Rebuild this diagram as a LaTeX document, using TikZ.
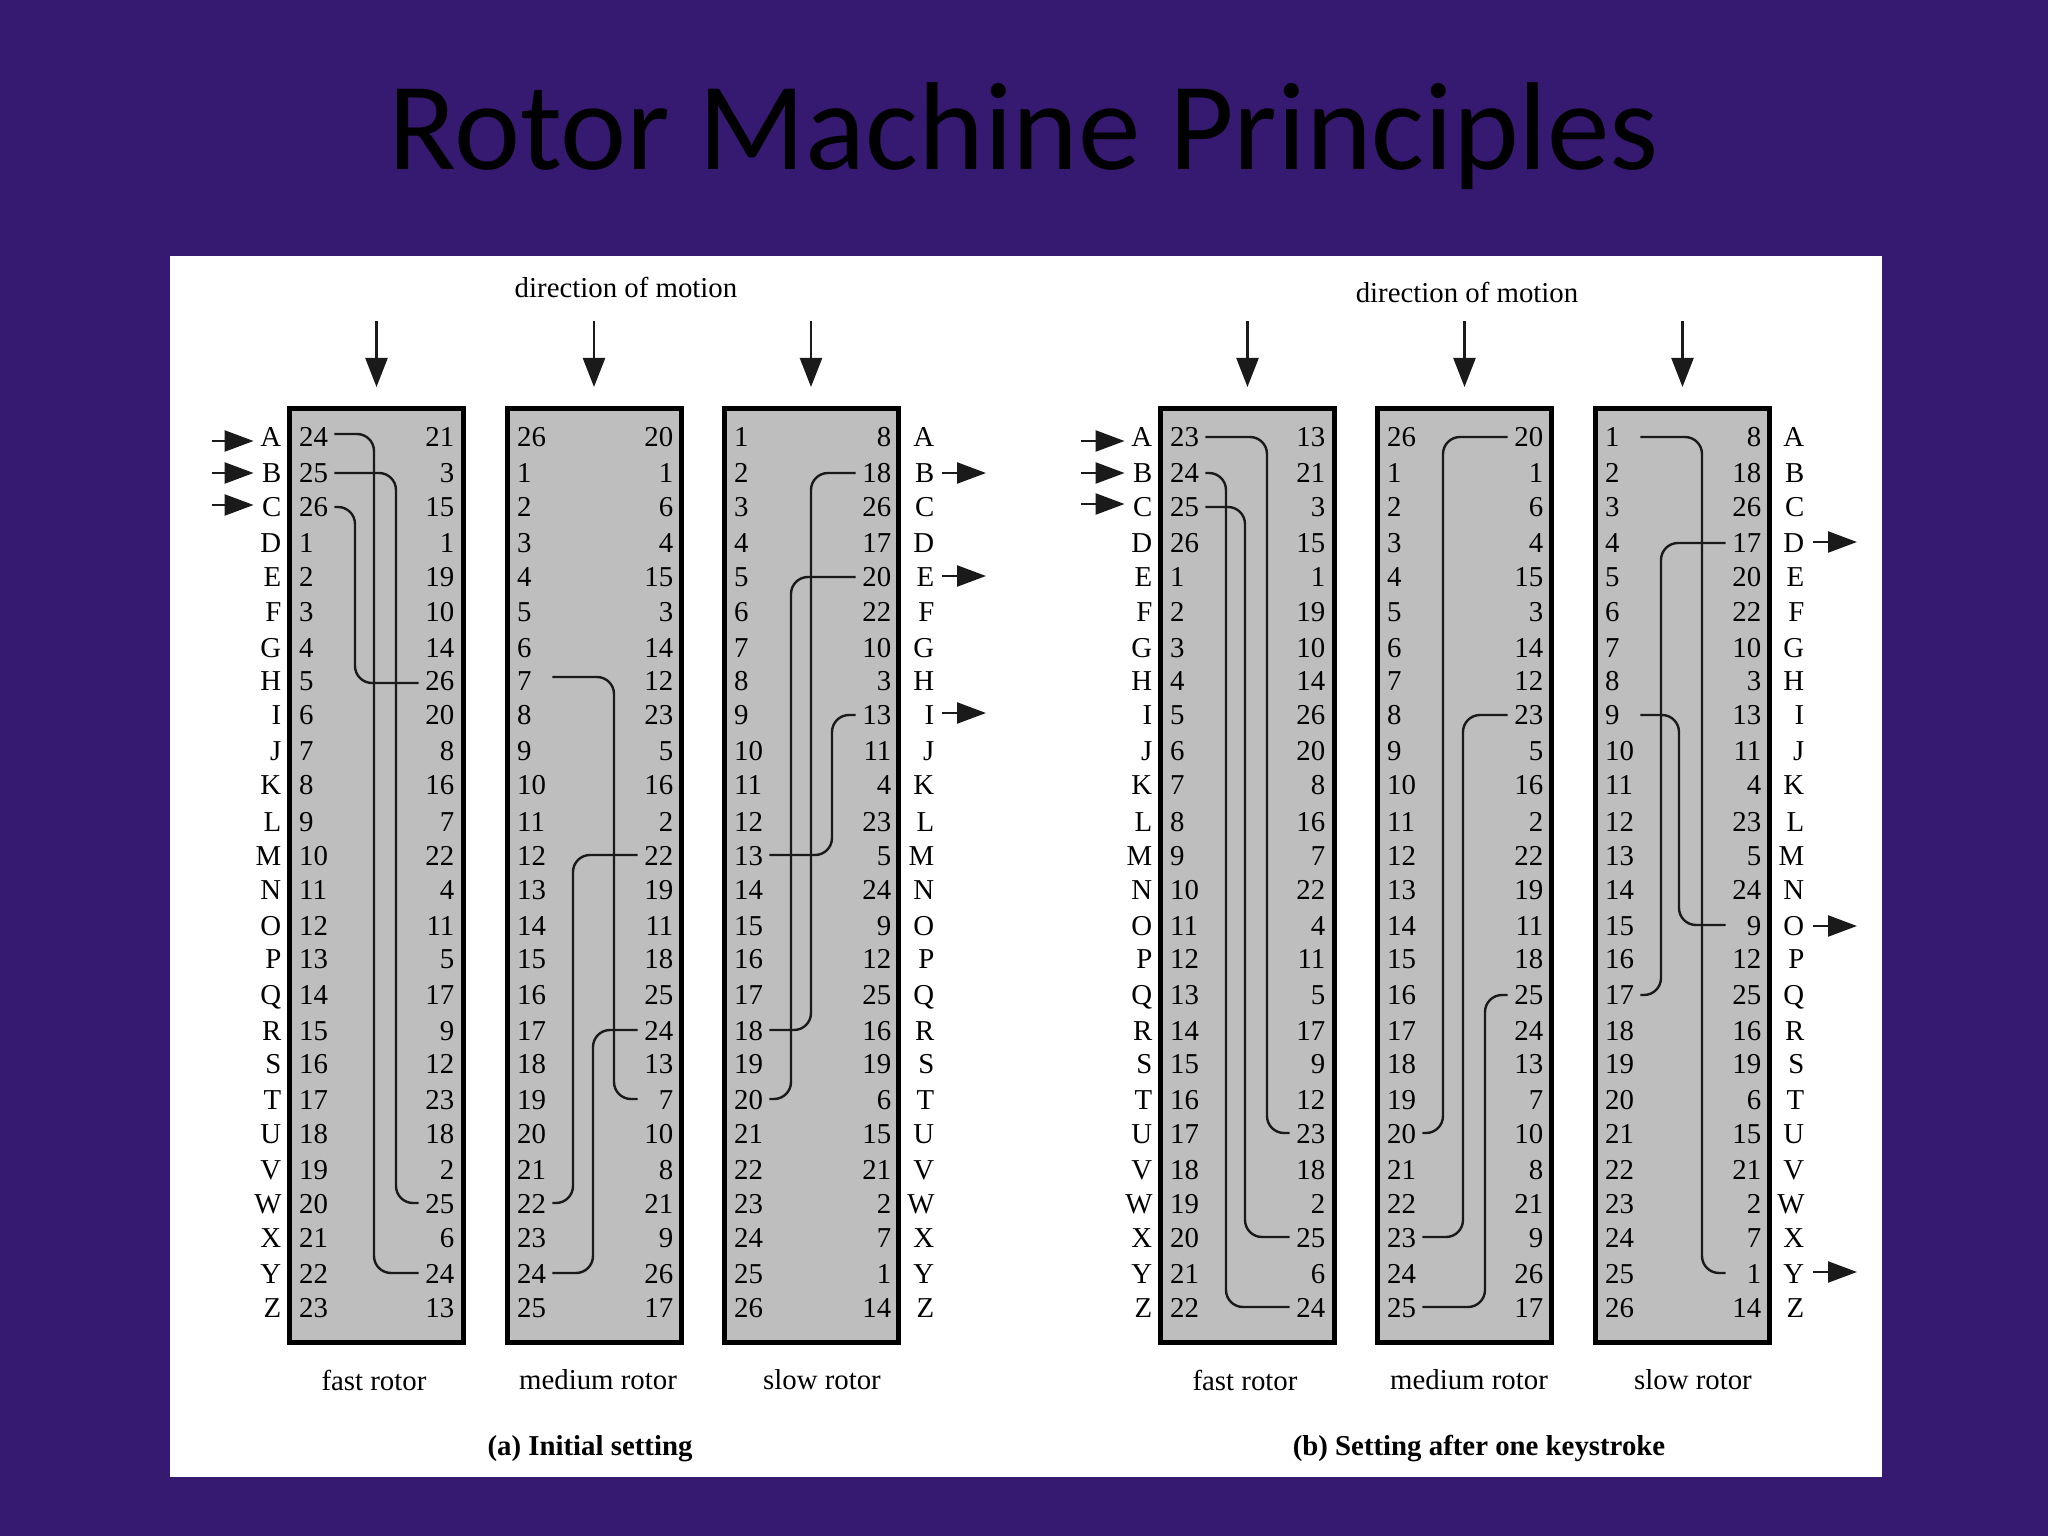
\documentclass[tikz,border=0pt]{standalone}
\usepackage{fontspec}
\usepackage{tikz}
\usetikzlibrary{arrows.meta, positioning}
\setmainfont{Liberation Serif}
\newfontfamily\titlefont{Carlito}
\definecolor{slidebg}{HTML}{361971}
\definecolor{rotorgray}{HTML}{BEBEBE}
\definecolor{wireink}{HTML}{1A1A1A}
\newcommand{\rotorcol}[4]{\foreach \val [count=\i] in {#4} {\node[#2] (#1\i) at (#3,0 |- row\i) {\val};}}

\begin{document}
\begin{tikzpicture}[
    x=1cm, y=-1cm,
    every node/.style={font=\fontsize{8.2}{10}\selectfont, inner sep=0pt},
    rotor/.style={rectangle, draw=black, fill=rotorgray, line width=0.05cm, minimum width=1.74cm, minimum height=9.34cm},
    numl/.style={anchor=west, text width=0.345cm, align=left, text height=0.2cm, text depth=0cm},
    numr/.style={anchor=east, text width=0.35cm, align=right, text height=0.2cm, text depth=0cm},
    letter/.style={anchor=east, text width=0.27cm, align=right, text height=0.2cm, text depth=0cm},
    wire/.style={draw=wireink, line width=0.024cm, rounded corners=0.17cm},
    via/.style={to path={-- (#1,0 |- \tikztostart) -- (#1,0 |- \tikztotarget) -- (\tikztotarget)}},
    motion/.style={-{Triangle[length=0.29cm, width=0.22cm]}, draw=wireink, line width=0.024cm, shorten >=0.19cm},
    signal/.style={-{Triangle[length=0.29cm, width=0.21cm]}, draw=wireink, line width=0.024cm}
]
\useasboundingbox (0,0) rectangle (20.48,15.36);
% Slide and panel
\fill[slidebg] (0,0) rectangle (20.48,15.36);
\fill[white] (1.70,2.56) rectangle (18.82,14.77);
\node[font=\titlefont\fontsize{35.6}{40}\selectfont, text=black, anchor=base] (title) at (10.24,1.70) {Rotor Machine Principles};

% Rotors
\node[rotor] (afast) at (3.765,8.755) {};
\node[rotor] (amed)  at (5.94,8.755)  {};
\node[rotor] (aslow) at (8.11,8.755)  {};
\node[rotor] (bfast) at (12.475,8.755) {};
\node[rotor] (bmed)  at (14.645,8.755) {};
\node[rotor] (bslow) at (16.825,8.755) {};

% Rows
\foreach \yy [count=\i] in {4.37,4.73,5.07,5.43,5.77,6.11,6.47,6.81,7.15,7.50,7.85,8.21,8.55,8.89,9.25,9.59,9.95,10.30,10.63,10.99,11.33,11.69,12.03,12.37,12.73,13.07}
    \coordinate (row\i) at (0,\yy);

% Setting (a)
\rotorcol{ain}{letter}{2.82}{A,B,C,D,E,F,G,H,I,J,K,L,M,N,O,P,Q,R,S,T,U,V,W,X,Y,Z}
\rotorcol{afl}{numl}{2.985}{24,25,26,1,2,3,4,5,6,7,8,9,10,11,12,13,14,15,16,17,18,19,20,21,22,23}
\rotorcol{afr}{numr}{4.55}{21,3,15,1,19,10,14,26,20,8,16,7,22,4,11,5,17,9,12,23,18,2,25,6,24,13}
\rotorcol{aml}{numl}{5.165}{26,1,2,3,4,5,6,7,8,9,10,11,12,13,14,15,16,17,18,19,20,21,22,23,24,25}
\rotorcol{amr}{numr}{6.74}{20,1,6,4,15,3,14,12,23,5,16,2,22,19,11,18,25,24,13,7,10,8,21,9,26,17}
\rotorcol{asl}{numl}{7.335}{1,2,3,4,5,6,7,8,9,10,11,12,13,14,15,16,17,18,19,20,21,22,23,24,25,26}
\rotorcol{asr}{numr}{8.92}{8,18,26,17,20,22,10,3,13,11,4,23,5,24,9,12,25,16,19,6,15,21,2,7,1,14}
\rotorcol{aout}{letter}{9.35}{A,B,C,D,E,F,G,H,I,J,K,L,M,N,O,P,Q,R,S,T,U,V,W,X,Y,Z}

% Setting (b)
\rotorcol{bin}{letter}{11.53}{A,B,C,D,E,F,G,H,I,J,K,L,M,N,O,P,Q,R,S,T,U,V,W,X,Y,Z}
\rotorcol{bfl}{numl}{11.695}{23,24,25,26,1,2,3,4,5,6,7,8,9,10,11,12,13,14,15,16,17,18,19,20,21,22}
\rotorcol{bfr}{numr}{13.26}{13,21,3,15,1,19,10,14,26,20,8,16,7,22,4,11,5,17,9,12,23,18,2,25,6,24}
\rotorcol{bml}{numl}{13.865}{26,1,2,3,4,5,6,7,8,9,10,11,12,13,14,15,16,17,18,19,20,21,22,23,24,25}
\rotorcol{bmr}{numr}{15.44}{20,1,6,4,15,3,14,12,23,5,16,2,22,19,11,18,25,24,13,7,10,8,21,9,26,17}
\rotorcol{bsl}{numl}{16.045}{1,2,3,4,5,6,7,8,9,10,11,12,13,14,15,16,17,18,19,20,21,22,23,24,25,26}
\rotorcol{bsr}{numr}{17.62}{8,18,26,17,20,22,10,3,13,11,4,23,5,24,9,12,25,16,19,6,15,21,2,7,1,14}
\rotorcol{bout}{letter}{18.05}{A,B,C,D,E,F,G,H,I,J,K,L,M,N,O,P,Q,R,S,T,U,V,W,X,Y,Z}

% Wiring (a)
\draw[wire] ([yshift=0.03cm]afl1.east) to[via=3.74] (afr25.west);
\draw[wire] (afl2.east) to[via=3.96] (afr23.west);
\draw[wire] (afl3.east) to[via=3.55] ([yshift=-0.02cm]afr8.west);
\draw[wire] ([yshift=0.04cm]aml8.east) to[via=6.14] (amr20.west);
\draw[wire] (aml23.east) to[via=5.73] (amr13.west);
\draw[wire] (aml25.east) to[via=5.93] (amr18.west);
\draw[wire] (asr2.west) to[via=8.11] (asl18.east);
\draw[wire] (asr5.west) to[via=7.91] (asl20.east);
\draw[wire] (asr9.west) to[via=8.32] (asl13.east);

% Wiring (b)
\draw[wire] (bfl1.east) to[via=12.67] (bfr21.west);
\draw[wire] (bfl2.east) to[via=12.26] (bfr26.west);
\draw[wire] (bfl3.east) to[via=12.45] (bfr24.west);
\draw[wire] (bmr1.west) to[via=14.43] (bml21.east);
\draw[wire] (bmr9.west) to[via=14.63] (bml24.east);
\draw[wire] (bmr17.west) to[via=14.85] (bml26.east);
\draw[wire] (bsl1.east) to[via=17.02] (bsr25.west);
\draw[wire] (bsr4.west) to[via=16.61] (bsl17.east);
\draw[wire] (bsl9.east) to[via=16.79] (bsr15.west);

% Direction of motion arrows
\coordinate (afdir) at (3.765,3.21);
\coordinate (amdir) at (5.94,3.21);
\coordinate (asdir) at (8.11,3.21);
\coordinate (bfdir) at (12.475,3.21);
\coordinate (bmdir) at (14.645,3.21);
\coordinate (bsdir) at (16.825,3.21);
\draw[motion] (afdir) -- (afast.north);
\draw[motion] (amdir) -- (amed.north);
\draw[motion] (asdir) -- (aslow.north);
\draw[motion] (bfdir) -- (bfast.north);
\draw[motion] (bmdir) -- (bmed.north);
\draw[motion] (bsdir) -- (bslow.north);

% Input arrows
\coordinate (akey1) at (2.12,4.41);
\coordinate (akey2) at (2.12,4.73);
\coordinate (akey3) at (2.12,5.05);
\coordinate (bkey1) at (10.81,4.41);
\coordinate (bkey2) at (10.81,4.73);
\coordinate (bkey3) at (10.81,5.04);
\draw[signal] (akey1) -- (akey1 -| ain1.west);
\draw[signal] (akey2) -- (akey2 -| ain2.west);
\draw[signal] (akey3) -- (akey3 -| ain3.west);
\draw[signal] (bkey1) -- (bkey1 -| bin1.west);
\draw[signal] (bkey2) -- (bkey2 -| bin2.west);
\draw[signal] (bkey3) -- (bkey3 -| bin3.west);

% Output arrows
\coordinate (alamp2) at (9.86,4.73);
\coordinate (alamp5) at (9.86,5.76);
\coordinate (alamp9) at (9.86,7.13);
\coordinate (blamp4) at (18.57,5.42);
\coordinate (blamp15) at (18.57,9.26);
\coordinate (blamp25) at (18.57,12.72);
\draw[signal, shorten <=0.07cm] (alamp2 -| aout2.east) -- (alamp2);
\draw[signal, shorten <=0.07cm] (alamp5 -| aout5.east) -- (alamp5);
\draw[signal, shorten <=0.07cm] (alamp9 -| aout9.east) -- (alamp9);
\draw[signal, shorten <=0.08cm] (blamp4 -| bout4.east) -- (blamp4);
\draw[signal, shorten <=0.08cm] (blamp15 -| bout15.east) -- (blamp15);
\draw[signal, shorten <=0.08cm] (blamp25 -| bout25.east) -- (blamp25);

% Captions
\node (adir) at (6.26,2.87) {direction of motion};
\node (bdir) at (14.67,2.92) {direction of motion};
\node (afcap) at (3.74,13.80) {fast rotor};
\node (amcap) at (5.98,13.80) {medium rotor};
\node (ascap) at (8.22,13.80) {slow rotor};
\node (bfcap) at (12.45,13.80) {fast rotor};
\node (bmcap) at (14.69,13.80) {medium rotor};
\node (bscap) at (16.93,13.80) {slow rotor};
\node (acap) at (5.90,14.49) {\textbf{(a) Initial setting}};
\node (bcap) at (14.79,14.49) {\textbf{(b) Setting after one keystroke}};
\end{tikzpicture}
\end{document}
